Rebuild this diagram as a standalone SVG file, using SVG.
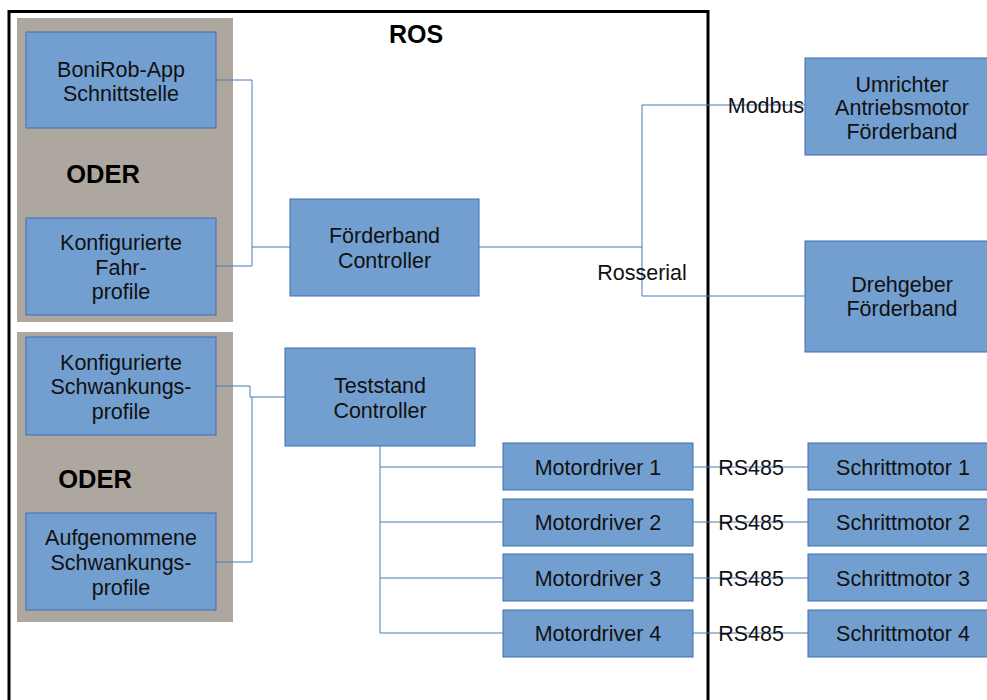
<svg xmlns="http://www.w3.org/2000/svg" width="987" height="700" viewBox="0 0 987 700">
<style>
.bx{fill:#729fcf;stroke:#3f6fae;stroke-width:1}
.pn{fill:#aea79f}
.t{font-family:"Liberation Sans",Arial,sans-serif;font-size:21.5px;fill:#111;text-anchor:middle}
.b{font-family:"Liberation Sans",Arial,sans-serif;font-weight:bold;fill:#000;text-anchor:middle}
.c{fill:none;stroke:#4a7ab8;stroke-width:1}
</style>
<rect width="987" height="700" fill="#fff"/>
<g id="ros">
<path d="M9,703 V11.5 H708 V703" fill="none" stroke="#000" stroke-width="3"/>
<text class="b" x="416" y="43" font-size="25">ROS</text>
</g>
<g id="panel1">
<rect class="pn" x="17" y="18" width="216" height="304"/>
<text class="b" x="103" y="183" font-size="25.5">ODER</text>
</g>
<g id="panel2">
<rect class="pn" x="17" y="332" width="216" height="290"/>
<text class="b" x="95" y="488" font-size="25.5">ODER</text>
</g>
<g id="connectors">
<path class="c" d="M216,80 H252 V266 H216 M252,247 H290"/>
<path class="c" d="M479,247 H642 M642,105 V296 M642,105 H805 M642,296 H805"/>
<path class="c" d="M216,386 H250 V397 H285 M252,397 V562 H216"/>
<path class="c" d="M380,446 V633 M380,467 H503 M380,522 H503 M380,578 H503 M380,633 H503"/>
<path class="c" d="M693,467 H808 M693,522 H808 M693,578 H808 M693,633 H808"/>
<text class="t" x="642" y="280">Rosserial</text>
<text class="t" x="766" y="113">Modbus</text>
<text class="t" x="751" y="475">RS485</text>
<text class="t" x="751" y="530">RS485</text>
<text class="t" x="751" y="586">RS485</text>
<text class="t" x="751" y="641">RS485</text>
</g>
<g id="bonirob">
<rect class="bx" x="26" y="32" width="190" height="96"/>
<text class="t" x="121" y="77">BoniRob-App</text>
<text class="t" x="121" y="101">Schnittstelle</text>
</g>
<g id="fahrprofile">
<rect class="bx" x="26" y="218" width="190" height="97"/>
<text class="t" x="121" y="250">Konfigurierte</text>
<text class="t" x="121" y="275">Fahr-</text>
<text class="t" x="121" y="299">profile</text>
</g>
<g id="foerderband-controller">
<rect class="bx" x="290" y="199" width="189" height="97"/>
<text class="t" x="384.5" y="243">Förderband</text>
<text class="t" x="384.5" y="268">Controller</text>
</g>
<g id="umrichter">
<rect class="bx" x="805" y="58" width="196" height="97"/>
<text class="t" x="902" y="92">Umrichter</text>
<text class="t" x="902" y="115">Antriebsmotor</text>
<text class="t" x="902" y="139">Förderband</text>
</g>
<g id="drehgeber">
<rect class="bx" x="805" y="241" width="196" height="111"/>
<text class="t" x="902" y="292">Drehgeber</text>
<text class="t" x="902" y="316">Förderband</text>
</g>
<g id="schwankung-konf">
<rect class="bx" x="26" y="337" width="190" height="98"/>
<text class="t" x="121" y="370">Konfigurierte</text>
<text class="t" x="121" y="394">Schwankungs-</text>
<text class="t" x="121" y="419">profile</text>
</g>
<g id="schwankung-aufg">
<rect class="bx" x="26" y="513" width="190" height="97"/>
<text class="t" x="121" y="545">Aufgenommene</text>
<text class="t" x="121" y="570">Schwankungs-</text>
<text class="t" x="121" y="595">profile</text>
</g>
<g id="teststand-controller">
<rect class="bx" x="285" y="348" width="190" height="98"/>
<text class="t" x="380" y="393">Teststand</text>
<text class="t" x="380" y="418">Controller</text>
</g>
<g id="motordriver1"><rect class="bx" x="503" y="443" width="190" height="47"/><text class="t" x="598" y="475">Motordriver 1</text></g>
<g id="motordriver2"><rect class="bx" x="503" y="499" width="190" height="47"/><text class="t" x="598" y="530">Motordriver 2</text></g>
<g id="motordriver3"><rect class="bx" x="503" y="554" width="190" height="47"/><text class="t" x="598" y="586">Motordriver 3</text></g>
<g id="motordriver4"><rect class="bx" x="503" y="610" width="190" height="47"/><text class="t" x="598" y="641">Motordriver 4</text></g>
<g id="schrittmotor1"><rect class="bx" x="808" y="443" width="190" height="47"/><text class="t" x="903" y="475">Schrittmotor 1</text></g>
<g id="schrittmotor2"><rect class="bx" x="808" y="499" width="190" height="47"/><text class="t" x="903" y="530">Schrittmotor 2</text></g>
<g id="schrittmotor3"><rect class="bx" x="808" y="554" width="190" height="47"/><text class="t" x="903" y="586">Schrittmotor 3</text></g>
<g id="schrittmotor4"><rect class="bx" x="808" y="610" width="190" height="47"/><text class="t" x="903" y="641">Schrittmotor 4</text></g>
</svg>
